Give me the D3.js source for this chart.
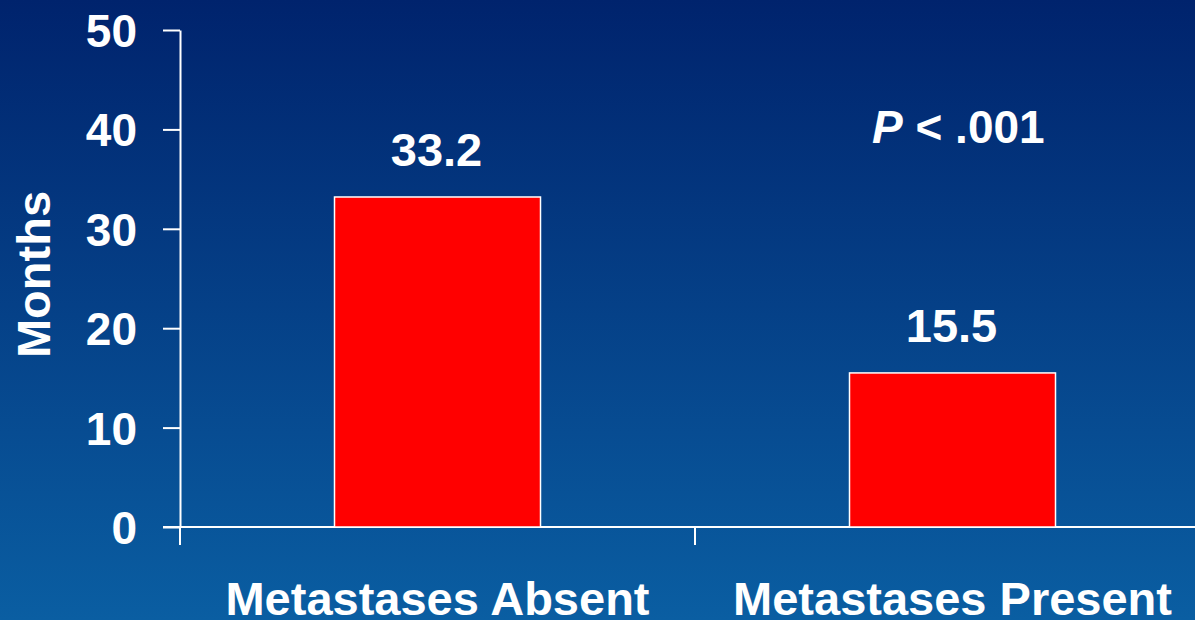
<!DOCTYPE html>
<html><head><meta charset="utf-8">
<script src="https://cdn.jsdelivr.net/npm/d3@7"></script>
<style>
html,body{margin:0;padding:0;background:#003070;}
svg{display:block;}
text{font-family:"Liberation Sans",Arial,sans-serif;font-weight:bold;fill:#fff;}
</style></head>
<body>
<svg id="chart" width="1195" height="620"></svg>
<script>
const categories = ["Metastases Absent", "Metastases Present"];
const values = [33.2, 15.5];
const valueLabels = ["33.2", "15.5"];
const yTicks = [0, 10, 20, 30, 40, 50];
const yTitle = "Months";
const pValue = ".001";

const W = 1195, H = 620;
const svg = d3.select("#chart");
const defs = svg.append("defs");
const grad = defs.append("linearGradient").attr("id","bg").attr("x1",0).attr("y1",0).attr("x2",0).attr("y2",1);
grad.append("stop").attr("offset","0%").attr("stop-color","#00236d");
grad.append("stop").attr("offset","100%").attr("stop-color","#0a5ea2");
svg.append("rect").attr("width",W).attr("height",H).attr("fill","url(#bg)");

const x = d3.scaleBand().domain(categories).range([180, 1210]).paddingInner(0).paddingOuter(0);
const y = d3.scaleLinear().domain([0, 50]).range([527, 30]);

// Y axis
const yAxis = d3.axisLeft(y).tickValues(yTicks).tickSize(17).tickPadding(26).tickSizeOuter(0);
const gy = svg.append("g").attr("transform","translate(180,0)").call(yAxis);
gy.select(".domain").attr("stroke","#fff").attr("stroke-width",2);
gy.selectAll(".tick line").attr("stroke","#fff").attr("stroke-width",2);
gy.selectAll(".tick text").attr("fill","#fff").style("font-size","46px").attr("dy","0.36em");

// X axis
const gx = svg.append("g").attr("transform","translate(0,527)");
gx.append("line").attr("x1",163).attr("x2",W).attr("y1",0).attr("y2",0).attr("stroke","#fff").attr("stroke-width",2);
gx.selectAll("line.xt").data(categories).join("line").attr("class","xt")
  .attr("x1",d=>x(d)).attr("x2",d=>x(d)).attr("y1",0).attr("y2",18)
  .attr("stroke","#fff").attr("stroke-width",2);
gx.selectAll("text.cat").data(categories).join("text").attr("class","cat")
  .attr("x",d=>x(d)+x.bandwidth()/2 - (d===categories[1]?0:0))
  .attr("y",88).attr("text-anchor","middle").style("font-size","47px").text(d=>d);

// Bars
const bw = x.bandwidth()*0.4;
svg.selectAll("rect.bar").data(values).join("rect").attr("class","bar")
  .attr("x",(d,i)=>x(categories[i])+x.bandwidth()/2-bw/2)
  .attr("y",d=>y(d)).attr("width",bw).attr("height",d=>y(0)-y(d))
  .attr("fill","#ff0000").attr("stroke","#fff").attr("stroke-width",1.5);

svg.selectAll("text.val").data(values).join("text").attr("class","val")
  .attr("x",(d,i)=>x(categories[i])+x.bandwidth()/2-1)
  .attr("y",d=>y(d)-31).attr("text-anchor","middle").style("font-size","47px")
  .text((d,i)=>valueLabels[i]);

// P value
const pt = svg.append("text").attr("x",872).attr("y",143).style("font-size","46px");
pt.append("tspan").style("font-style","italic").text("P");
pt.append("tspan").text(" < " + pValue);

// Y title
svg.append("text").attr("transform","translate(50,"+((y(0)+y(50))/2-4)+") rotate(-90)")
  .attr("text-anchor","middle").style("font-size","47px").text(yTitle);
</script>
</body></html>
